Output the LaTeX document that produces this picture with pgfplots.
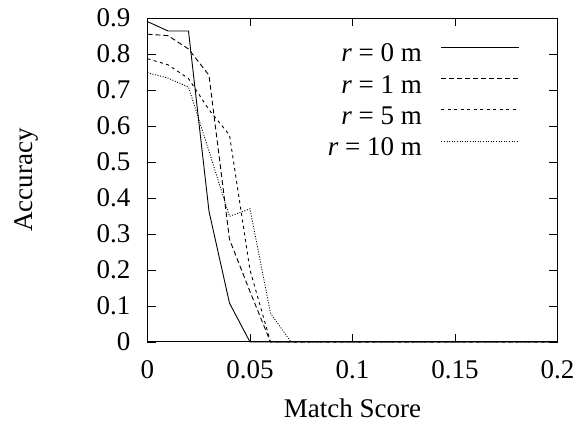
\documentclass[border=0pt]{standalone}
\usepackage{fontspec}
\setmainfont{Liberation Serif}
\usepackage{pgfplots}
\pgfplotsset{compat=1.18}

\begin{document}
\begin{tikzpicture}
\useasboundingbox (-147.5pt,-85pt) rectangle (438.5pt,342pt);
\begin{axis}[
  at={(0pt,0pt)}, anchor=south west,
  scale only axis, width=410pt, height=324pt,
  xmin=0, xmax=0.2, ymin=0, ymax=0.9,
  xtick={0,0.05,0.1,0.15,0.2}, xticklabels={0,0.05,0.1,0.15,0.2},
  ytick={0,0.1,0.2,0.3,0.4,0.5,0.6,0.7,0.8,0.9},
  yticklabels={0,0.1,0.2,0.3,0.4,0.5,0.6,0.7,0.8,0.9},
  scaled ticks=false,
  xtick pos=both, ytick pos=both, tick align=inside,
  major tick length=8pt,
  tick style={black, line width=0.8pt},
  axis line style={black, line width=1pt},
  font=\fontsize{27}{32}\selectfont,
  yticklabel style={inner sep=0pt, xshift=-17pt},
  xticklabel style={inner sep=0pt, yshift=-18pt},
  xlabel={Match Score}, ylabel={Accuracy},
  xlabel style={at={(axis description cs:0.5,-0.204)}, anchor=center},
  ylabel style={at={(axis description cs:-0.294,0.5)}, anchor=center, rotate=0},
  clip=false,
  legend plot pos=right,
  legend cell align=right,
  legend image code/.code={\draw[#1] (0pt,6.5pt) -- (78pt,6.5pt);},
  legend style={at={(axis description cs:0.916,0.93)}, anchor=north east,
    draw=none, fill=none, font=\fontsize{27}{32}\selectfont,
    row sep=10pt, column sep=18pt, nodes={inner sep=1pt}},
]
\addplot[black, line width=0.9pt] coordinates {
  (0,0.89) (0.01,0.864) (0.02,0.864) (0.03,0.363) (0.04,0.108) (0.05,0) (0.2,0)};
\addlegendentry{\textit{r} = 0 m}
\addplot[black, line width=0.9pt, dash pattern=on 5pt off 3pt] coordinates {
  (0,0.855) (0.01,0.851) (0.02,0.814) (0.03,0.741) (0.04,0.285) (0.05,0.14) (0.06,0) (0.2,0)};
\addlegendentry{\textit{r} = 1 m}
\addplot[black, line width=0.9pt, dash pattern=on 3pt off 3.5pt] coordinates {
  (0,0.787) (0.01,0.77) (0.02,0.732) (0.03,0.645) (0.04,0.575) (0.05,0.2) (0.06,0) (0.2,0)};
\addlegendentry{\textit{r} = 5 m}
\addplot[black, line width=0.9pt, dash pattern=on 1pt off 1.6pt] coordinates {
  (0,0.748) (0.01,0.733) (0.02,0.708) (0.03,0.53) (0.04,0.349) (0.05,0.37) (0.06,0.08) (0.07,0) (0.2,0)};
\addlegendentry{\textit{r} = 10 m}
\end{axis}
\end{tikzpicture}
\end{document}
